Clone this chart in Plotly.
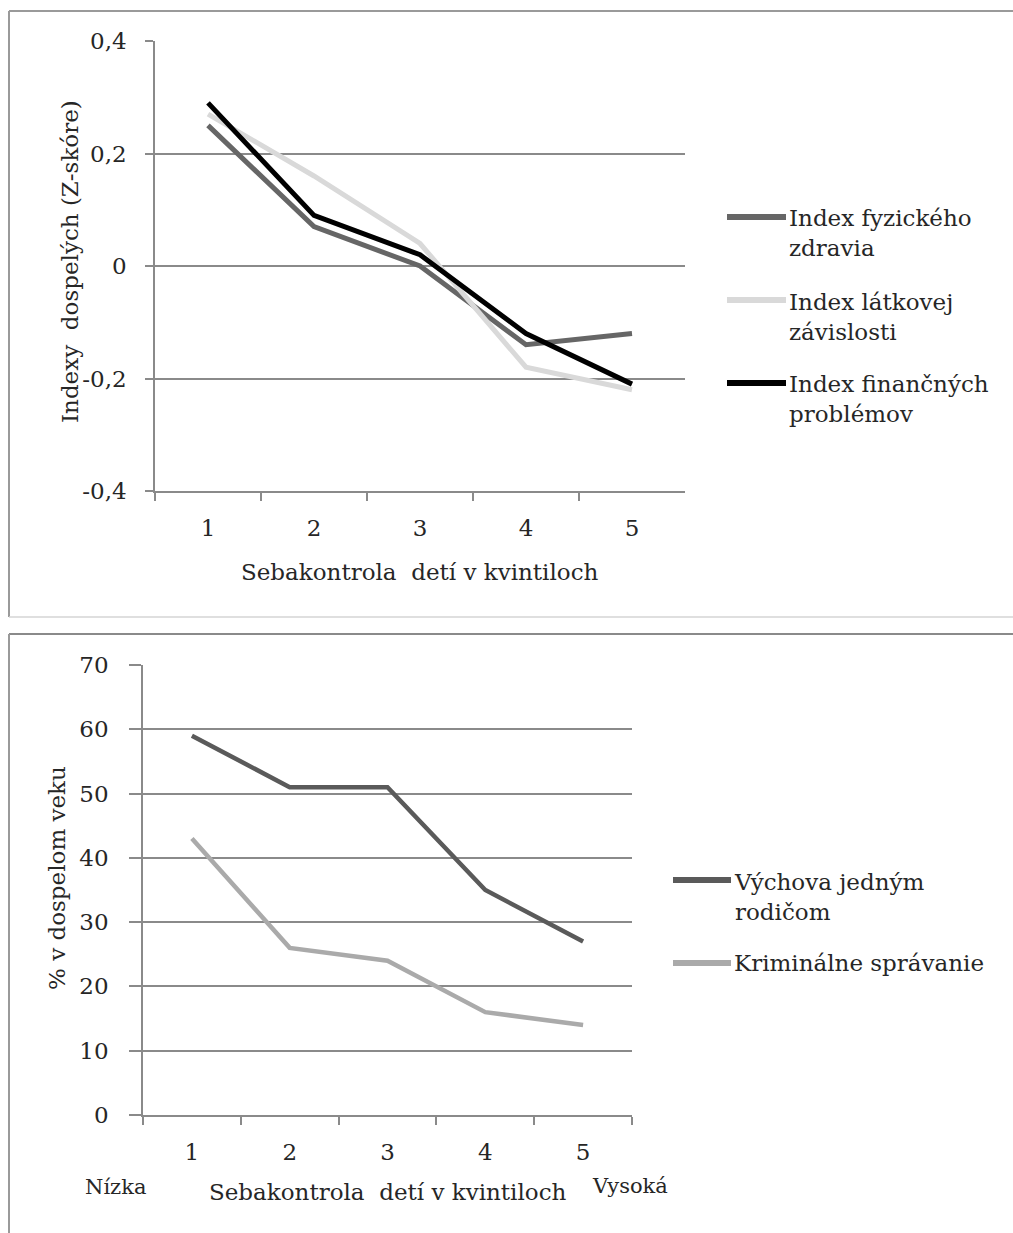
import plotly.graph_objects as go

# ---- data -------------------------------------------------------------
quintiles = ["1", "2", "3", "4", "5"]

top_names = ["Index fyzického zdravia", "Index látkovej závislosti", "Index finančných problémov"]
top_legend_text = ["Index fyzického<br>zdravia", "Index látkovej<br>závislosti", "Index finančných<br>problémov"]
physical_health = [0.25, 0.07, 0.00, -0.14, -0.12]
substance_dependence = [0.27, 0.16, 0.04, -0.18, -0.22]
financial_problems = [0.29, 0.09, 0.02, -0.12, -0.21]

top_ticks = [-0.4, -0.2, 0.0, 0.2, 0.4]
top_tick_text = ["-0,4", "-0,2", "0", "0,2", "0,4"]

bottom_names = ["Výchova jedným rodičom", "Kriminálne správanie"]
bottom_legend_text = ["Výchova jedným<br>rodičom", "Kriminálne správanie"]
single_parent = [59, 51, 51, 35, 27]
criminal = [43, 26, 24, 16, 14]

bottom_ticks = [0, 10, 20, 30, 40, 50, 60, 70]

x_title = "Sebakontrola  detí v kvintiloch"
top_y_title = "Indexy  dospelých (Z-skóre)"
bottom_y_title = "% v dospelom veku"

# ---- layout helpers ---------------------------------------------------
W, H = 1013, 1233
FONT = "DejaVu Serif"
TXT = "#262626"
AX = "#8a8a8a"


def px(x):
    """pixel x -> paper fraction"""
    return x / W


def py(y):
    """pixel y (from top) -> paper fraction"""
    return 1 - y / H


top_colors = ["#666666", "#d9d9d9", "#000000"]
bottom_colors = ["#5a5a5a", "#aaaaaa"]

fig = go.Figure()

for name, vals, col in zip(top_names, [physical_health, substance_dependence, financial_problems], top_colors):
    fig.add_trace(go.Scatter(x=quintiles, y=vals, name=name, mode="lines",
                             line=dict(color=col, width=5), xaxis="x", yaxis="y",
                             showlegend=False))

for name, vals, col in zip(bottom_names, [single_parent, criminal], bottom_colors):
    fig.add_trace(go.Scatter(x=quintiles, y=vals, name=name, mode="lines",
                             line=dict(color=col, width=4.5), xaxis="x2", yaxis="y2",
                             showlegend=False))

common_x = dict(type="category", range=[-0.5, 4.5], tickson="boundaries", ticks="outside",
                ticklen=8, tickcolor=AX, tickwidth=1.5, showline=True, linecolor=AX,
                linewidth=1.5, showgrid=False, zeroline=False, ticklabelstandoff=16,
                automargin=False, tickfont=dict(family=FONT, size=23, color=TXT))
common_y = dict(ticks="outside", tickcolor=AX, tickwidth=1.5, showline=True,
                linecolor=AX, linewidth=1.5, showgrid=True, gridcolor=AX, gridwidth=1.5,
                zeroline=False, automargin=False, tickfont=dict(family=FONT, size=23, color=TXT))

fig.update_layout(
    template="none",
    width=W, height=H, autosize=False,
    margin=dict(l=0, r=0, t=0, b=0, pad=0),
    paper_bgcolor="white", plot_bgcolor="white",
    xaxis=dict(domain=[px(155), px(685)], anchor="y", **common_x),
    yaxis=dict(domain=[py(491), py(41)], anchor="x", range=[-0.4, 0.4],
               tickvals=top_ticks, ticktext=top_tick_text, ticklen=8,
               ticklabelstandoff=14, **common_y),
    xaxis2=dict(domain=[px(143), px(632)], anchor="y2", **common_x),
    yaxis2=dict(domain=[py(1115), py(665)], anchor="x2", range=[0, 70],
                tickvals=bottom_ticks, ticklen=12, ticklabelstandoff=16, **common_y),
    showlegend=False,
)

shapes = []
annotations = []

# panel frames
shapes.append(dict(type="line", xref="paper", yref="paper", x0=px(9), x1=1.02, y0=py(11), y1=py(11),
                   line=dict(color="#9a9a9a", width=2)))
shapes.append(dict(type="line", xref="paper", yref="paper", x0=px(9), x1=px(9), y0=py(617), y1=py(11),
                   line=dict(color="#9a9a9a", width=2)))
shapes.append(dict(type="line", xref="paper", yref="paper", x0=px(9), x1=1.02, y0=py(617), y1=py(617),
                   line=dict(color="#d4d4d4", width=1.5)))
shapes.append(dict(type="line", xref="paper", yref="paper", x0=px(9), x1=1.02, y0=py(634), y1=py(634),
                   line=dict(color="#8a8a8a", width=2)))
shapes.append(dict(type="line", xref="paper", yref="paper", x0=px(9), x1=px(9), y0=-0.02, y1=py(634),
                   line=dict(color="#9a9a9a", width=2)))


def legend_block(texts, colors, sw_x0, sw_x1, text_x, first_line_ys, block_ys, width):
    for t, c, ly, by in zip(texts, colors, first_line_ys, block_ys):
        shapes.append(dict(type="line", xref="paper", yref="paper",
                           x0=px(sw_x0), x1=px(sw_x1), y0=py(ly), y1=py(ly),
                           line=dict(color=c, width=width)))
        annotations.append(dict(xref="paper", yref="paper", x=px(text_x), y=py(by),
                                xanchor="left", yanchor="middle", align="left",
                                text=t, showarrow=False,
                                font=dict(family=FONT, size=23, color=TXT)))


legend_block(top_legend_text, top_colors, 727, 786, 787, [217, 300, 383], [233.5, 316.5, 399.5], 6)
legend_block(bottom_legend_text, bottom_colors, 673, 731, 732, [880, 963], [896.5, 963], 6)

# axis titles
annotations.append(dict(xref="paper", yref="paper", x=px(420), y=py(572), text=x_title,
                        showarrow=False, xanchor="center", yanchor="middle",
                        font=dict(family=FONT, size=23, color=TXT)))
annotations.append(dict(xref="paper", yref="paper", x=px(70), y=py(262), text=top_y_title,
                        showarrow=False, textangle=-90, xanchor="center", yanchor="middle",
                        font=dict(family=FONT, size=23, color=TXT)))
annotations.append(dict(xref="paper", yref="paper", x=px(388), y=py(1192), text=x_title,
                        showarrow=False, xanchor="center", yanchor="middle",
                        font=dict(family=FONT, size=23, color=TXT)))
annotations.append(dict(xref="paper", yref="paper", x=px(57), y=py(878), text=bottom_y_title,
                        showarrow=False, textangle=-90, xanchor="center", yanchor="middle",
                        font=dict(family=FONT, size=23, color=TXT)))
annotations.append(dict(xref="paper", yref="paper", x=px(115), y=py(1187), text="Nízka",
                        showarrow=False, xanchor="center", yanchor="middle",
                        font=dict(family=FONT, size=21, color=TXT)))
annotations.append(dict(xref="paper", yref="paper", x=px(630), y=py(1186), text="Vysoká",
                        showarrow=False, xanchor="center", yanchor="middle",
                        font=dict(family=FONT, size=21, color=TXT)))

fig.update_layout(shapes=shapes, annotations=annotations)

fig.write_html("out.html")
